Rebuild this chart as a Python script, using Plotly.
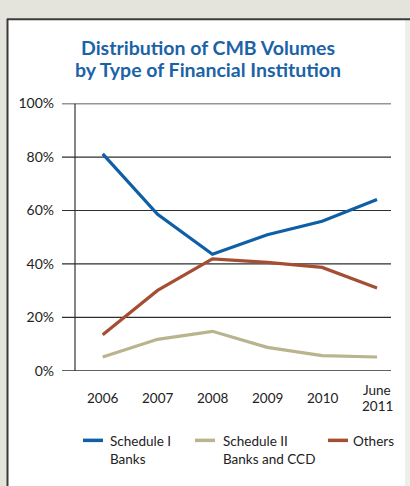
import plotly.graph_objects as go

categories = ["2006", "2007", "2008", "2009", "2010", "June<br>2011"]
schedule_1 = [81.2, 58.6, 43.6, 50.9, 56.0, 64.1]
schedule_2 = [5.2, 11.8, 14.8, 8.8, 5.7, 5.2]
others = [13.5, 30.1, 41.9, 40.6, 38.7, 31.0]
y_ticks = [0, 20, 40, 60, 80, 100]
y_labels = ["0%", "20%", "40%", "60%", "80%", "100%"]
series_names = ["Schedule I<br>Banks", "Schedule II<br>Banks and CCD", "Others"]
title_lines = ["Distribution of CMB Volumes", "by Type of Financial Institution"]

colors = ["#0f5fa7", "#b9b48e", "#a44f33"]
series_values = [schedule_1, schedule_2, others]

W, H = 410, 486
FONT = "Lato"
TXT = "#222222"
xidx = list(range(len(categories)))

fig = go.Figure()
for name, vals, col in zip(series_names, series_values, colors):
    fig.add_trace(go.Scatter(x=xidx, y=vals, mode="lines", name=name.replace("<br>", " "),
                             line=dict(color=col, width=3.2), showlegend=False))

def px_x(p):
    return p / W

def px_y(p):
    return 1 - p / H

shapes = [
    dict(type="rect", xref="paper", yref="paper", x0=px_x(405), x1=1.02, y0=-0.02, y1=px_y(10),
         fillcolor="#efefea", line=dict(width=0), layer="below"),
    dict(type="rect", xref="paper", yref="paper", x0=px_x(7), x1=px_x(405), y0=-0.02, y1=px_y(10),
         fillcolor="white", line=dict(width=0), layer="below"),
    dict(type="line", xref="paper", yref="paper", x0=px_x(7.5), x1=px_x(7.5), y0=-0.02, y1=px_y(10),
         line=dict(color="#3a3a3a", width=2), layer="below"),
    dict(type="line", xref="paper", yref="paper", x0=px_x(7), x1=1.02, y0=px_y(10.5), y1=px_y(10.5),
         line=dict(color="#3a3a3a", width=2), layer="below"),
    dict(type="line", xref="paper", yref="y", x0=px_x(75), x1=px_x(75), y0=0, y1=100,
         line=dict(color="#333333", width=1.2), layer="below"),
]
for t in y_ticks:
    shapes.append(dict(type="line", xref="paper", yref="y", x0=px_x(62), x1=px_x(391), y0=t, y1=t,
                       line=dict(color="#2e2e2e", width=1.2), layer="below"))

annotations = []
for line, yc in zip(title_lines, [40, 63]):
    annotations.append(dict(text="<b>" + line + "</b>", xref="paper", yref="paper",
                            x=px_x(208), y=px_y(yc), xanchor="center", yanchor="middle",
                            showarrow=False, font=dict(family=FONT, size=19.5, color="#1b63a6")))

for i, lab in enumerate(categories):
    parts = lab.split("<br>")
    ys = [403] if len(parts) == 1 else [395, 411]
    for part, yc in zip(parts, ys):
        annotations.append(dict(text=part, xref="x", yref="paper", x=i, y=px_y(yc),
                                xanchor="center", yanchor="middle", showarrow=False,
                                font=dict(family=FONT, size=13.5, color=TXT)))

legend_pos = [(83, 103, 108), (195, 215, 221), (328, 348, 351)]
for (x0, x1, tx), name, col in zip(legend_pos, series_names, colors):
    shapes.append(dict(type="line", xref="paper", yref="paper", x0=px_x(x0), x1=px_x(x1),
                       y0=px_y(447), y1=px_y(447), line=dict(color=col, width=3.5)))
    annotations.append(dict(text=name, xref="paper", yref="paper", x=px_x(tx), y=px_y(437),
                            xanchor="left", yanchor="top", align="left", showarrow=False,
                            font=dict(family=FONT, size=13.5, color=TXT)))

fig.update_layout(
    width=W, height=H,
    margin=dict(l=0, r=0, t=0, b=0),
    paper_bgcolor="#e4e4dc",
    plot_bgcolor="rgba(0,0,0,0)",
    shapes=shapes,
    annotations=annotations,
    xaxis=dict(domain=[px_x(62), px_x(391)], range=[-0.742, 5.255], showgrid=False,
               zeroline=False, showticklabels=False, showline=False, fixedrange=True),
    yaxis=dict(domain=[px_y(375), px_y(98)], range=[0, 100], tickvals=y_ticks, ticktext=y_labels,
               showgrid=False, zeroline=False, showline=False,
               ticks="", ticklabelstandoff=7,
               tickfont=dict(family=FONT, size=14, color=TXT), fixedrange=True),
)

fig.write_html("out.html")
